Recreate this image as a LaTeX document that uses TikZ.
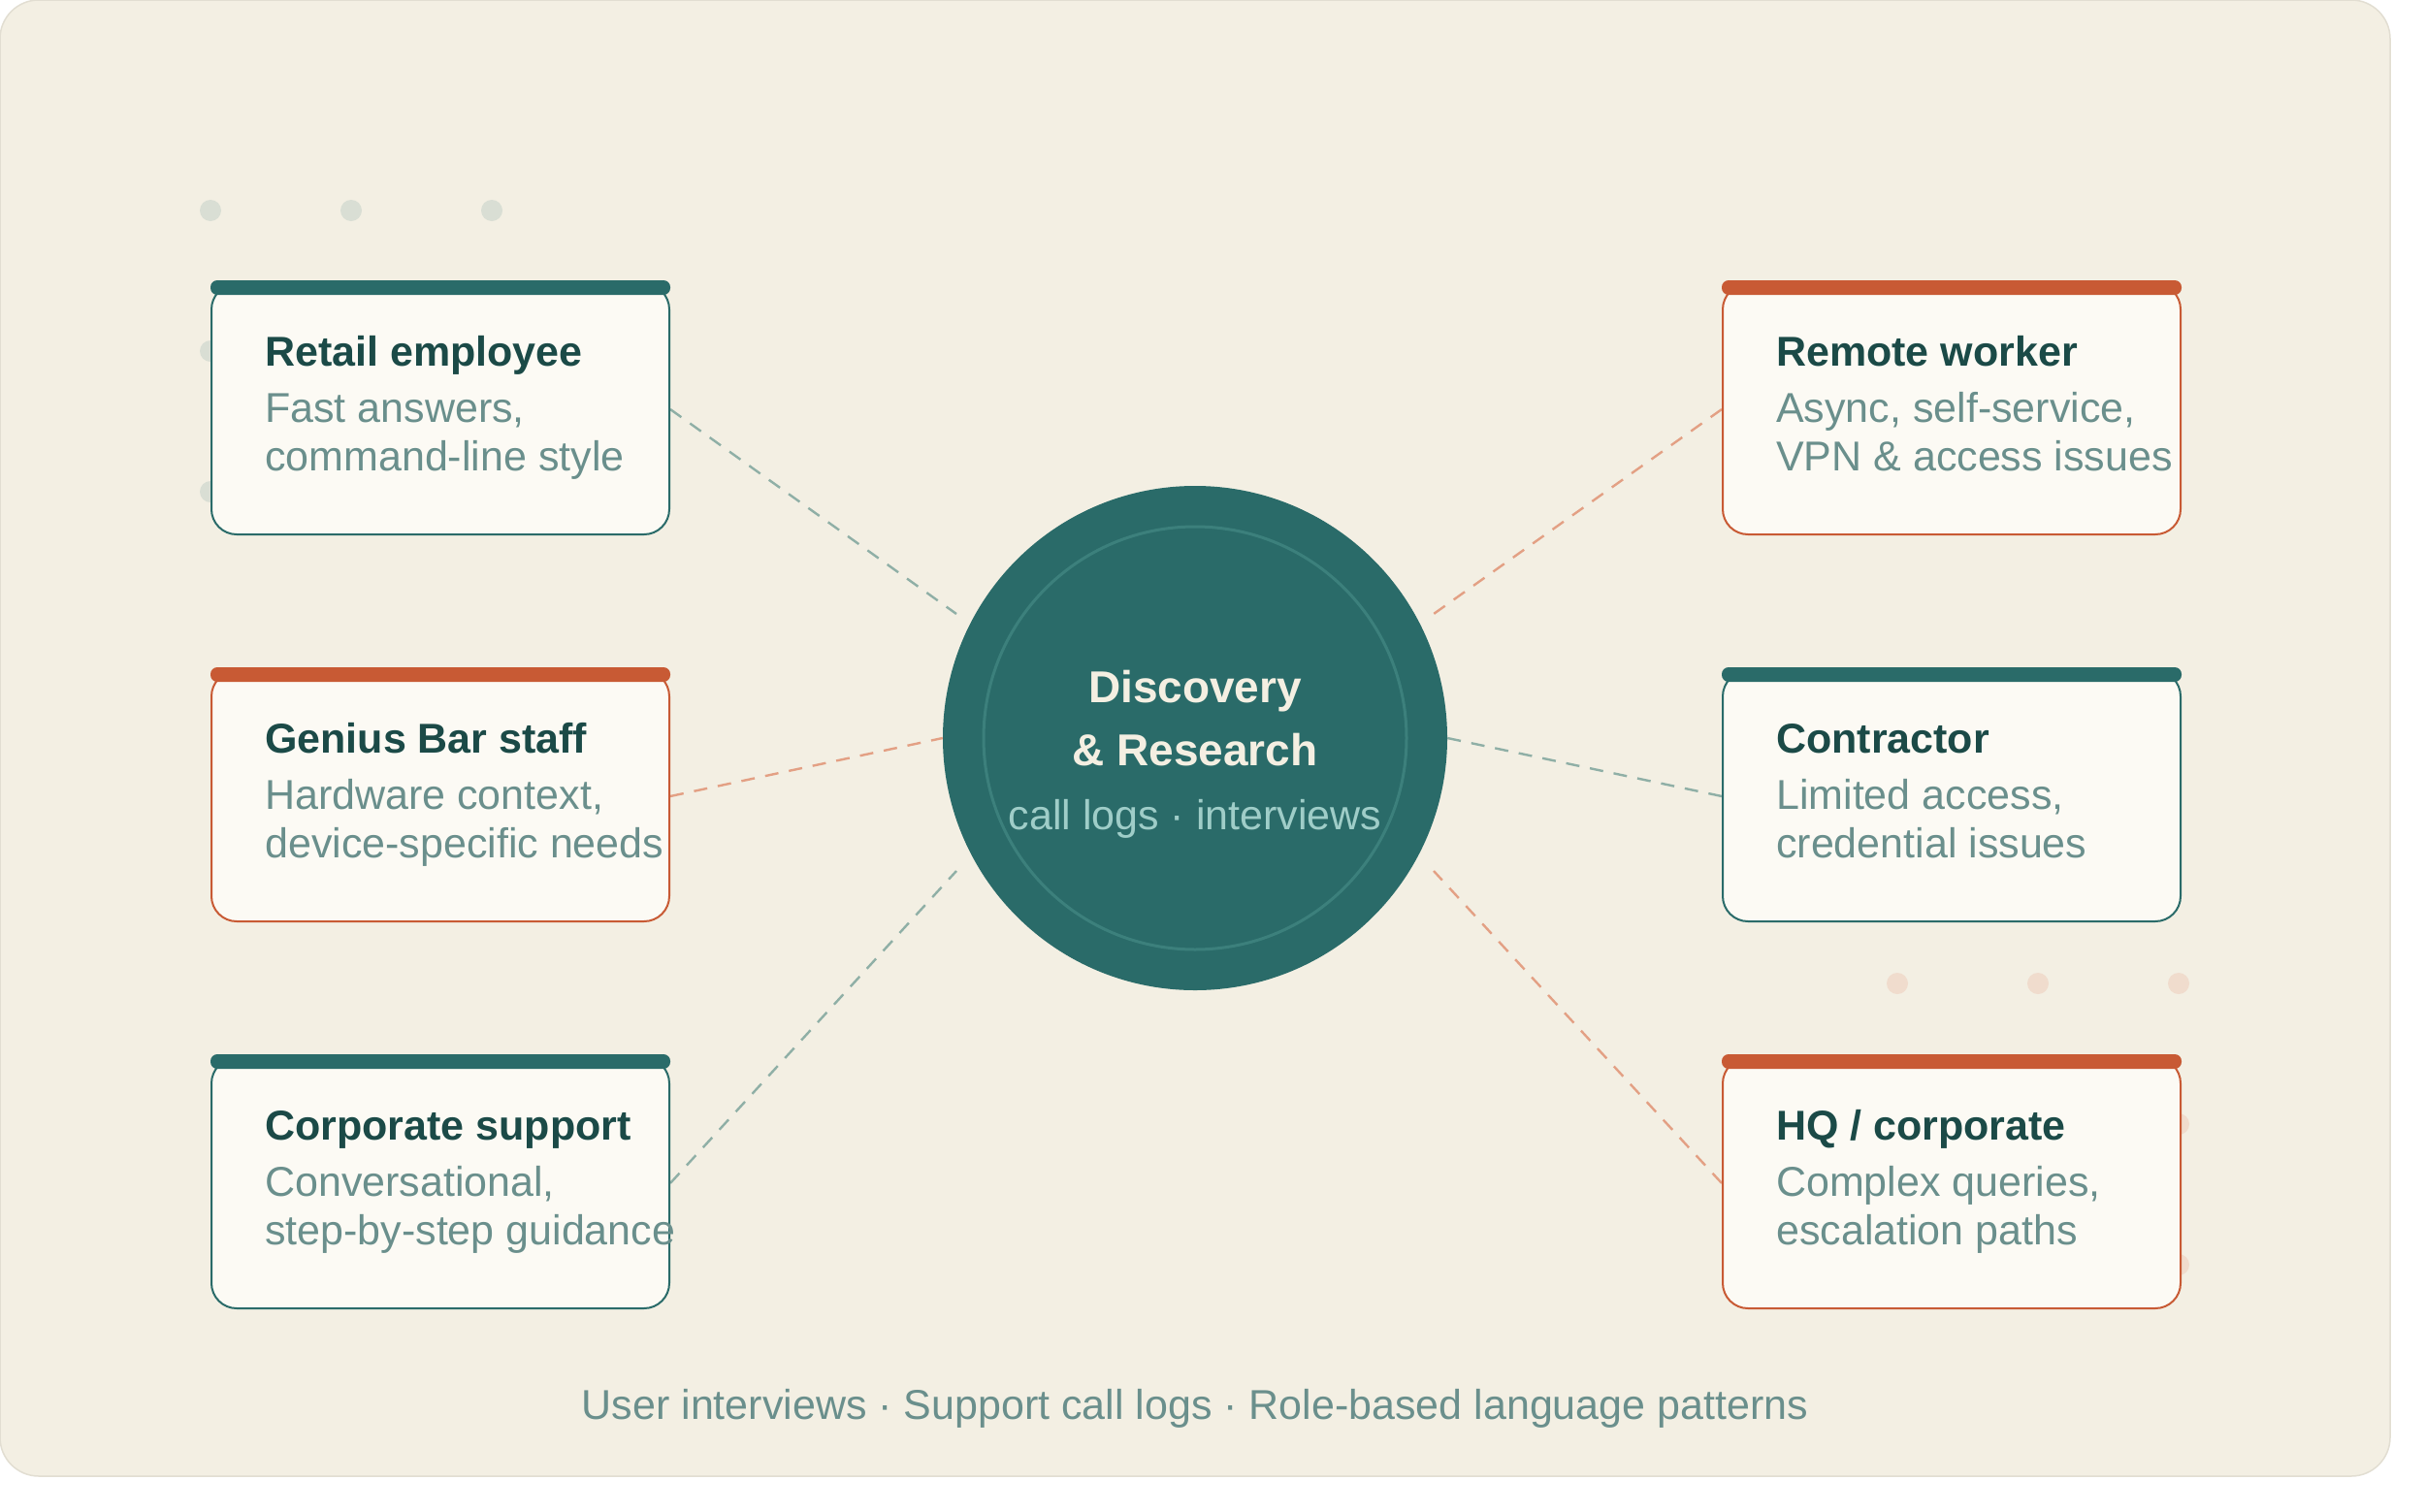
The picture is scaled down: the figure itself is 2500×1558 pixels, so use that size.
\documentclass[tikz,border=0pt]{standalone}
\usepackage{fontspec}
\setmainfont{Liberation Sans}
\usetikzlibrary{calc}
\definecolor{cream}{HTML}{F3EFE3}
\definecolor{cardfill}{HTML}{FCFAF4}
\definecolor{tealD}{HTML}{2A6B69}
\definecolor{titleC}{HTML}{1B4A47}
\definecolor{descC}{HTML}{6A8F8C}
\definecolor{orangeD}{HTML}{C85A34}
\definecolor{ringC}{HTML}{3C807C}
\definecolor{hubTitle}{HTML}{F4EFE2}
\definecolor{hubSub}{HTML}{9FCDC8}
\definecolor{tealLine}{HTML}{8FAFA6}
\definecolor{orangeLine}{HTML}{E3A084}
\definecolor{tealDot}{HTML}{D9DED4}
\definecolor{orangeDot}{HTML}{F0DCCD}
\definecolor{edgeC}{HTML}{E2DED2}
\pgfdeclarelayer{back}
\pgfdeclarelayer{links}
\pgfsetlayers{back,links,main}
\tikzset{
  card/.style={draw=#1, line width=2pt, fill=cardfill, rounded corners=26pt,
    minimum width=472pt, minimum height=258pt, inner sep=0pt, anchor=north west},
  cardbar/.style={fill=#1, rounded corners=7pt},
  ttl/.style={anchor=base west, inner sep=0pt, text=titleC, font=\fontsize{43}{50}\selectfont\bfseries},
  dsc/.style={anchor=base west, inner sep=0pt, text=descC, font=\fontsize{43}{50}\selectfont},
  link/.style={draw=#1, line width=2.4pt, dash pattern=on 14pt off 11pt},
  dotc/.style={fill=#1},
  hubtxt/.style={anchor=base, inner sep=0pt},
}
% #1 name, #2 x, #3 top, #4 color, #5 title, #6 line1, #7 line2
\newcommand\mkpersona[7]{%
  \node[card=#4] (#1) at (#2,#3+2) {};
  \fill[cardbar=#4] ($(#1.north west)+(0,-3)$) rectangle ($(#1.north east)+(0,12)$);
  \node[ttl] (#1T) at (#2+56,#3+87) {#5};
  \node[dsc] (#1A) at (#2+56,#3+145) {#6};
  \node[dsc] (#1B) at (#2+56,#3+195) {#7};
}
\begin{document}
\begin{tikzpicture}[x=1pt,y=-1pt]
\useasboundingbox (0,0) rectangle (2500,1558);
\begin{pgfonlayer}{back}
  \fill[white] (0,0) rectangle (2500,1558);
  \fill[cream, draw=edgeC, line width=1.5pt, rounded corners=40pt] (0,0) rectangle (2464,1522);
  \foreach \i in {0,1,2} \foreach \j in {0,1,2} {
    \fill[dotc=tealDot] (217+145*\i,217+145*\j) circle (11pt);
    \fill[dotc=orangeDot] (1956+145*\i,1014+145*\j) circle (11pt);
  }
\end{pgfonlayer}

% hub
\node[circle, fill=tealD, minimum size=520pt, inner sep=0pt] (hub) at (1232,761) {};
\draw[ringC, line width=3pt] (hub.center) circle (218pt);
\node[hubtxt, text=hubTitle, font=\fontsize{46}{50}\selectfont\bfseries] (hubA) at (1232,724) {Discovery};
\node[hubtxt, text=hubTitle, font=\fontsize{46}{50}\selectfont\bfseries] (hubB) at (1232,789) {\& Research};
\node[hubtxt, text=hubSub, font=\fontsize{43}{50}\selectfont] (hubC) at (1232,855) {call logs · interviews};

\coordinate (pNW) at ($(hub.center)+(-246,-128)$);
\coordinate (pNE) at ($(hub.center)+(246,-128)$);
\coordinate (pSW) at ($(hub.center)+(-246,137)$);
\coordinate (pSE) at ($(hub.center)+(246,137)$);

% cards
\mkpersona{retail}{217}{290}{tealD}{Retail employee}{Fast answers,}{command-line style}
\mkpersona{genius}{217}{689}{orangeD}{Genius Bar staff}{Hardware context,}{device-specific needs}
\mkpersona{corp}{217}{1088}{tealD}{Corporate support}{Conversational,}{step-by-step guidance}
\mkpersona{remote}{1775}{290}{orangeD}{Remote worker}{Async, self-service,}{VPN \& access issues}
\mkpersona{contractor}{1775}{689}{tealD}{Contractor}{Limited access,}{credential issues}
\mkpersona{hq}{1775}{1088}{orangeD}{HQ / corporate}{Complex queries,}{escalation paths}

\begin{pgfonlayer}{links}
  \draw[link=tealLine] (retail.east) -- (pNW);
  \draw[link=orangeLine] (genius.east) -- (hub.west);
  \draw[link=tealLine] (corp.east) -- (pSW);
  \draw[link=orangeLine] (remote.west) -- (pNE);
  \draw[link=tealLine] (contractor.west) -- (hub.east);
  \draw[link=orangeLine] (hq.west) -- (pSE);
\end{pgfonlayer}

\node[anchor=base, inner sep=0pt, text=descC, font=\fontsize{43}{50}\selectfont] (caption) at (1232,1463)
  {User interviews · Support call logs · Role-based language patterns};
\end{tikzpicture}
\end{document}
